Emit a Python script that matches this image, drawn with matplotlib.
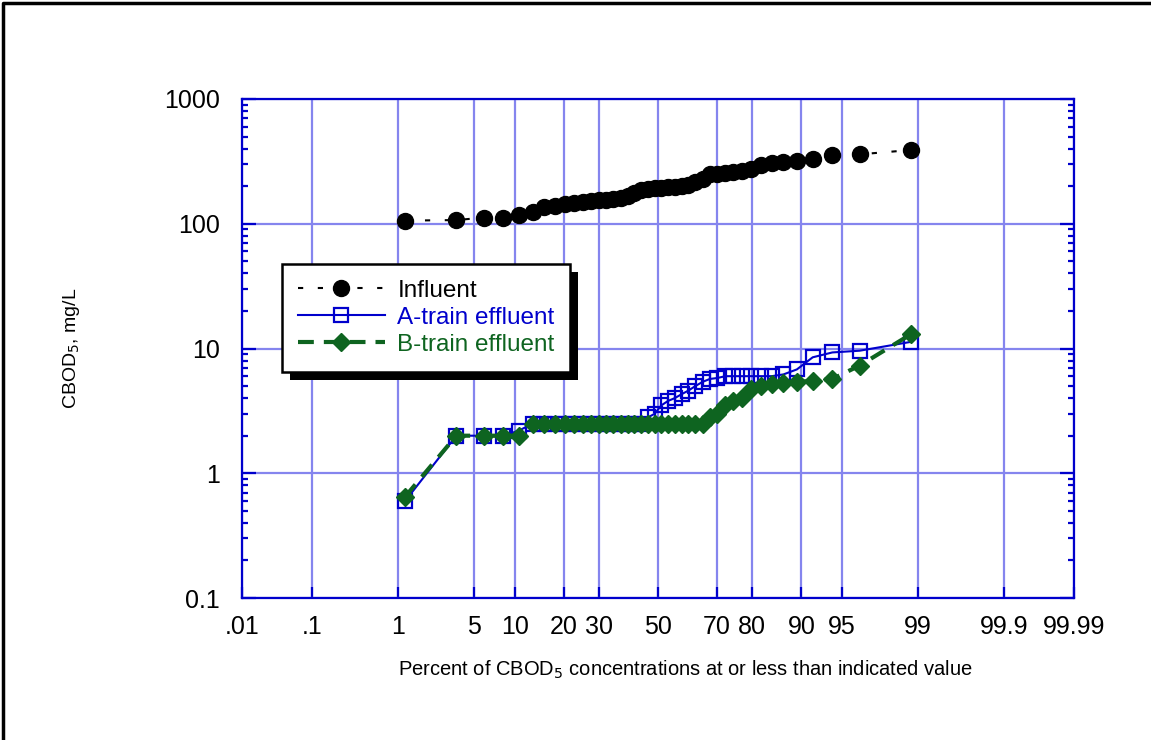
import math
import numpy as np
import matplotlib
matplotlib.use("Agg")
import matplotlib.pyplot as plt
from matplotlib.lines import Line2D
from matplotlib.patches import Rectangle
from matplotlib.transforms import IdentityTransform

plt.rcParams['font.family'] = ['Liberation Sans', 'DejaVu Sans']

# sorted CBOD5 values, mg/L (42 samples each)
influent = [106, 107, 112, 112, 117, 125, 135, 140, 144, 148,
            150, 152, 155, 155, 158, 162, 168, 175, 185, 190,
            192, 195, 196, 198, 200, 205, 215, 230, 250, 252,
            255, 260, 265, 275, 295, 305, 310, 320, 330, 355,
            360, 390]
a_train = [0.6, 2.0, 2.0, 2.0, 2.2,
           2.5, 2.5, 2.5, 2.5, 2.5, 2.5, 2.5, 2.5, 2.5, 2.5, 2.5, 2.5, 2.5, 2.5,
           2.8, 3.0, 3.5, 3.8, 4.0, 4.3, 4.6, 5.0, 5.4, 5.7, 5.8,
           6.0, 6.0, 6.0, 6.0, 6.0, 6.0, 6.2, 6.8, 8.5, 9.3, 9.6, 11.3]
b_train = [0.65, 2.0, 2.0, 2.0, 2.0,
           2.5, 2.5, 2.5, 2.5, 2.5, 2.5, 2.5, 2.5, 2.5, 2.5, 2.5, 2.5,
           2.5, 2.5, 2.5, 2.5, 2.5, 2.5, 2.5, 2.5, 2.5, 2.5, 2.5,
           2.8, 3.0, 3.5, 3.8, 4.0, 4.7, 5.0, 5.2, 5.3, 5.4, 5.5, 5.7, 7.3, 13.0]

x_ticks = [0.01, 0.1, 1, 5, 10, 20, 30, 50, 70, 80, 90, 95, 99, 99.9, 99.99]
x_labels = ['.01', '.1', '1', '5', '10', '20', '30', '50', '70', '80', '90', '95', '99', '99.9', '99.99']
y_ticks = [0.1, 1, 10, 100, 1000]
y_labels = ['0.1', '1', '10', '100', '1000']


def hazen(vals):
    n = len(vals)
    return 100.0 * (np.arange(1, n + 1) - 0.5) / n


# normal probability scale (Acklam inverse normal)
A = [-3.969683028665376e+01, 2.209460984245205e+02, -2.759285104469687e+02,
     1.383577518672690e+02, -3.066479806614716e+01, 2.506628277459239e+00]
B = [-5.447609879822406e+01, 1.615858368580409e+02, -1.556989798598866e+02,
     6.680131188771972e+01, -1.328068155288572e+01]
C = [-7.784894002430293e-03, -3.223964580411365e-01, -2.400758277161838e+00,
     -2.549732539343734e+00, 4.374664141464968e+00, 2.938163982698783e+00]
D = [7.784695709041462e-03, 3.224671290700398e-01, 2.445134137142996e+00,
     3.754408661907416e+00]


def ppf(pct):
    p = np.clip(np.asarray(pct, dtype=float) / 100.0, 1e-12, 1 - 1e-12)
    out = np.empty_like(p)
    lo = p < 0.02425
    hi = p > 1 - 0.02425
    mid = ~(lo | hi)
    q = p[mid] - 0.5
    r = q * q
    out[mid] = (((((A[0]*r + A[1])*r + A[2])*r + A[3])*r + A[4])*r + A[5])*q / \
               (((((B[0]*r + B[1])*r + B[2])*r + B[3])*r + B[4])*r + 1)
    q = np.sqrt(-2 * np.log(p[lo]))
    out[lo] = (((((C[0]*q + C[1])*q + C[2])*q + C[3])*q + C[4])*q + C[5]) / \
              ((((D[0]*q + D[1])*q + D[2])*q + D[3])*q + 1)
    q = np.sqrt(-2 * np.log(1 - p[hi]))
    out[hi] = -(((((C[0]*q + C[1])*q + C[2])*q + C[3])*q + C[4])*q + C[5]) / \
               ((((D[0]*q + D[1])*q + D[2])*q + D[3])*q + 1)
    return out


_erf = np.vectorize(math.erf)


def cdf(z):
    return 50.0 * (1 + _erf(np.asarray(z, dtype=float) / math.sqrt(2)))


blue = '#0000cc'
green = '#0e6420'
gridc = '#8585ee'

fig = plt.figure(figsize=(11.51, 7.40), dpi=100)
ax = fig.add_axes([242/1151, 1 - 598/740, 832/1151, 499/740])
ax.set_xscale('function', functions=(ppf, cdf))
ax.set_yscale('log')

ax.plot(hazen(influent), influent, color='black', lw=1.5, dashes=(2.5, 7),
        marker='o', ms=11.5, mfc='black', mec='black', label='Influent', zorder=3)
ax.plot(hazen(a_train), a_train, color=blue, lw=1.5, marker='s', ms=10,
        mfc='none', mec=blue, mew=1.6, label='A-train effluent', zorder=3)
ax.plot(hazen(b_train), b_train, color=green, lw=3, dashes=(3.8, 2.4),
        marker='D', ms=9.5, mfc=green, mec=green, label='B-train effluent', zorder=4)

ax.set_xlim(0.01, 99.99)
ax.set_ylim(0.1, 1000)
ax.set_xticks(x_ticks)
ax.set_xticklabels(x_labels)
ax.xaxis.set_minor_locator(matplotlib.ticker.NullLocator())
ax.set_yticks(y_ticks)
ax.set_yticklabels(y_labels)

ax.grid(True, which='major', color=gridc, lw=1.6)
ax.set_axisbelow(True)
for s in ax.spines.values():
    s.set_color(blue)
    s.set_linewidth(1.6)
ax.tick_params(axis='both', which='major', direction='in', color=blue, width=1.6,
               labelsize=18, labelcolor='black')
ax.tick_params(axis='x', length=8, pad=12, top=False)
ax.tick_params(axis='y', length=10, pad=16, right=True)
ax.tick_params(axis='y', which='minor', direction='in', length=4, width=1.6,
               color=blue, right=True)

ax.set_ylabel('CBOD$_5$, mg/L', fontsize=14)
ax.yaxis.set_label_coords((82 - 242) / 832, 0.5)
fig.text(685/1151, 1 - 670/740,
         'Percent of CBOD$_5$ concentrations at or less than indicated value',
         ha='center', va='center', fontsize=14.5)

leg = ax.legend(loc='upper left', bbox_to_anchor=(0.048, 0.669), borderaxespad=0,
                fontsize=17.5, frameon=True, fancybox=False, framealpha=1,
                edgecolor='black', handlelength=3.6, handletextpad=0.5,
                labelspacing=0.2, borderpad=0.65)
leg.get_frame().set_linewidth(1.8)
leg.set_zorder(6)
for txt, col in zip(leg.get_texts(), ['black', blue, green]):
    txt.set_color(col)

fig.canvas.draw()
bb = leg.get_window_extent()
ax.add_patch(Rectangle((bb.x0 + 8, bb.y0 - 8), bb.width, bb.height,
                       transform=IdentityTransform(), facecolor='black',
                       edgecolor='none', zorder=5.5, clip_on=False))

# page frame
fig.add_artist(Line2D([3/1151, 3/1151, 1], [0, 1 - 3/740, 1 - 3/740],
                      transform=fig.transFigure, color='black', lw=2.5))

fig.savefig('out.png', dpi=100)
